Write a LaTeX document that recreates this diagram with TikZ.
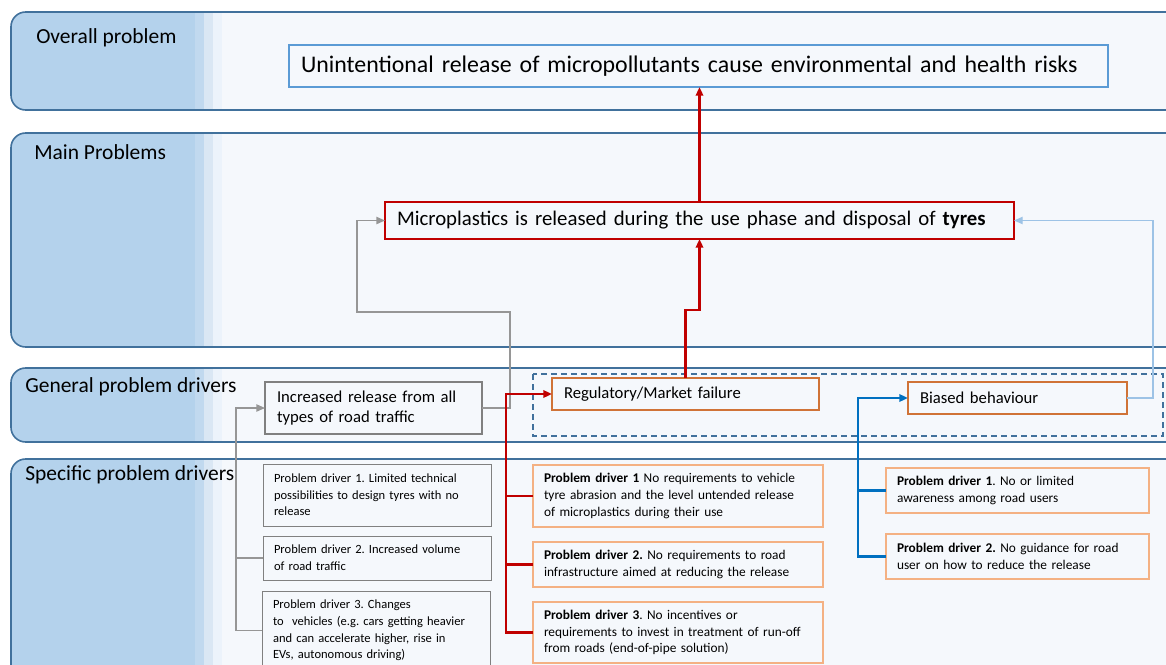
\documentclass[tikz,border=0pt]{standalone}
\usepackage{fontspec}
\setmainfont{Carlito}
\usetikzlibrary{arrows.meta}
\frenchspacing
\newlength\pxu \setlength\pxu{0.75pt}
\definecolor{bandL}{RGB}{180,210,236}
\definecolor{bandS1}{RGB}{193,217,239}
\definecolor{bandS2}{RGB}{218,231,244}
\definecolor{bandS3}{RGB}{236,243,251}
\definecolor{bandR}{RGB}{245,248,252}
\definecolor{bandline}{RGB}{65,113,156}
\definecolor{topblue}{RGB}{91,155,213}
\definecolor{darkred}{RGB}{192,0,0}
\definecolor{orangeD}{RGB}{208,115,55}
\definecolor{orangeL}{RGB}{244,177,131}
\definecolor{boxgray}{RGB}{128,128,128}
\definecolor{linegray}{RGB}{150,150,150}
\definecolor{dblue}{RGB}{0,112,192}
\definecolor{lblue}{RGB}{157,195,230}
\newcommand\myband[2]{%
  \begin{scope}
    \clip[rounded corners=11pt] (1300,#1) -- (11,#1) -- (11,#2) -- (1300,#2) -- cycle;
    \fill[bandR] (0,#1) rectangle (1300,#2);
    \fill[bandL] (0,#1) rectangle (195,#2);
    \fill[bandS1] (195,#1) rectangle (204,#2);
    \fill[bandS2] (204,#1) rectangle (213,#2);
    \fill[bandS3] (213,#1) rectangle (222,#2);
  \end{scope}
  \draw[bandline, line width=1.2pt, rounded corners=11pt] (1300,#1) -- (11,#1) -- (11,#2) -- (1300,#2);
}
\tikzset{
  box/.style={anchor=north west, align=left, inner xsep=12\pxu, inner ysep=0pt, outer sep=0pt, fill=bandR},
  sfont/.style={font=\fontsize{9.4}{12.5}\selectfont, inner xsep=11\pxu},
  ofont/.style={font=\fontsize{10}{12.5}\selectfont, inner xsep=11\pxu},
  gbox/.style={box, sfont, draw=boxgray, line width=0.7pt},
  obox/.style={box, ofont, draw=orangeL, line width=1.5pt},
  bandlabel/.style={anchor=base west, inner sep=0pt, font=\fontsize{16.1}{18}\selectfont},
  mfont/.style={font=\fontsize{12.5}{15}\selectfont},
  tip/.style={-{Triangle[length=6.5pt,width=5.5pt]}},
  redc/.style={draw=darkred, line width=1.8pt},
  grayc/.style={draw=linegray, line width=1pt},
  bluec/.style={draw=dblue, line width=1.6pt},
  lbluec/.style={draw=lblue, line width=1pt},
}
\begin{document}
\begin{tikzpicture}[x=0.75pt, y=-0.75pt]
\clip (0,0) rectangle (1166,664);
\fill[white] (0,0) rectangle (1166,664);
% bands
\myband{12}{110}
\myband{133}{347}
\myband{368}{442}
\myband{459}{720}
\node[bandlabel] (l1) at (36,43) {Overall problem};
\node[bandlabel] (l2) at (34,159) {Main Problems};
\node[bandlabel] (l3) at (25,392) {General problem drivers};
\node[bandlabel] (l4) at (25,480) {Specific problem drivers};
% dashed group
\draw[bandline, line width=0.9pt, dash pattern=on 4.5pt off 3pt] (533,374) rectangle (1163,436);
% main boxes
\node[box, draw=topblue, line width=2.2pt, minimum width=819\pxu, minimum height=42\pxu, text width=795\pxu, font=\fontsize{17.9}{20}\selectfont] (top) at (289,45) {Unintentional release of micropollutants cause environmental and health risks};
\node[box, draw=darkred, line width=1.6pt, minimum width=629\pxu, minimum height=37\pxu, text width=605\pxu, font=\fontsize{15.6}{17}\selectfont] (mp) at (385,202) {Microplastics is released during the use phase and disposal of \textbf{tyres}};
\node[box, mfont, draw=boxgray, line width=0.8pt, minimum width=217\pxu, minimum height=52\pxu, text width=193\pxu] (inc) at (265,382) {Increased release from all\\types of road traffic};
\node[box, mfont, draw=orangeD, line width=1.1pt, minimum width=267\pxu, minimum height=32\pxu, text width=243\pxu] (reg) at (552,378) {Regulatory/Market failure};
\node[box, mfont, draw=orangeD, line width=1.1pt, minimum width=219\pxu, minimum height=32\pxu, text width=195\pxu] (bias) at (908,382) {Biased behaviour};
% specific drivers - gray
\node[gbox, minimum width=228\pxu, minimum height=62\pxu, text width=206\pxu] (gp1) at (263,464) {Problem driver 1. Limited technical\\possibilities to design tyres with no\\release};
\node[gbox, minimum width=228\pxu, minimum height=44\pxu, text width=206\pxu] (gp2) at (263,536) {Problem driver 2. Increased volume\\of road traffic};
\node[gbox, minimum width=228\pxu, minimum height=79\pxu, text width=206\pxu] (gp3) at (262,591) {Problem driver 3. Changes\\to ~vehicles (e.g. cars getting heavier\\and can accelerate higher, rise in\\EVs, autonomous driving)};
% specific drivers - red
\node[obox, minimum width=290\pxu, minimum height=62\pxu, text width=268\pxu] (rp1) at (533,465) {\textbf{Problem driver 1} No requirements to vehicle\\tyre abrasion and the level untended release\\of microplastics during their use};
\node[obox, minimum width=290\pxu, minimum height=45\pxu, text width=268\pxu] (rp2) at (533,542) {\textbf{Problem driver 2.} No requirements to road\\infrastructure aimed at reducing the release};
\node[obox, minimum width=290\pxu, minimum height=61\pxu, text width=268\pxu] (rp3) at (533,602) {\textbf{Problem driver 3}. No incentives or\\requirements to invest in treatment of run-off\\from roads (end-of-pipe solution)};
% specific drivers - blue
\node[obox, minimum width=263\pxu, minimum height=45\pxu, text width=241\pxu] (bp1) at (886,468) {\textbf{Problem driver 1}. No or limited\\awareness among road users};
\node[obox, minimum width=263\pxu, minimum height=45\pxu, text width=241\pxu] (bp2) at (886,534) {\textbf{Problem driver 2.} No guidance for road\\user on how to reduce the release};
% connectors
\draw[redc, tip] (mp.north) -- (mp.north |- top.south);
\draw[redc, tip] (reg.north) -- ++(0,-68) -| (mp.south);
\draw[grayc, tip] (inc.east) -- ++(28,0) |- (357,312) |- (mp.west);
\draw[lbluec, tip] (bias.east) -- ++(26,0) |- (mp.east);
\draw[redc, tip] (rp3.west) -- ++(-27,0) |- (reg.west);
\draw[redc] (rp1.west) -- ++(-27,0);
\draw[redc] (rp2.west) -- ++(-27,0);
\draw[grayc, tip] (gp3.west) -- ++(-26,0) |- (inc.west);
\draw[grayc] (gp2.west) -- ++(-27,0);
\draw[bluec, tip] (bp2.west) -- ++(-28,0) |- (bias.west);
\draw[bluec] (bp1.west) -- ++(-28,0);
\end{tikzpicture}
\end{document}
